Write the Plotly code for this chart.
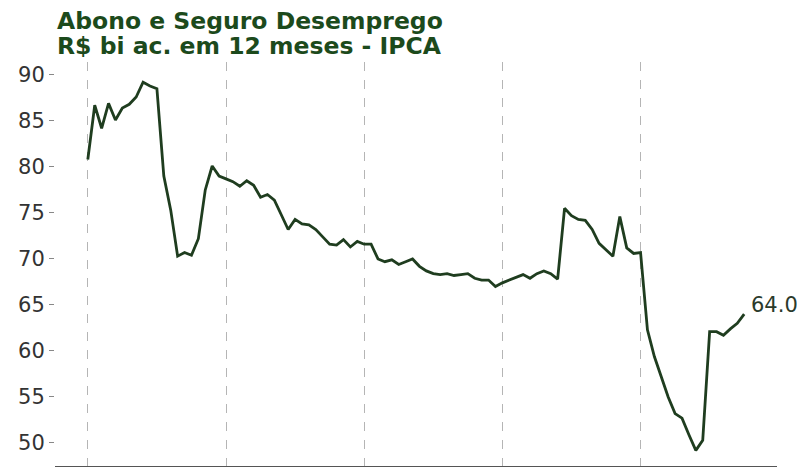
import plotly.graph_objects as go

values = [
    80.8, 86.7, 84.2, 86.9, 85.1, 86.4, 86.8, 87.6, 89.2, 88.8,
    88.5, 79.0, 75.3, 70.3, 70.7, 70.4, 72.2, 77.5, 80.1, 79.0,
    78.7, 78.4, 77.9, 78.5, 78.0, 76.7, 77.0, 76.4, 74.8, 73.2,
    74.3, 73.8, 73.7, 73.2, 72.4, 71.6, 71.5, 72.1, 71.3, 71.9,
    71.6, 71.6, 70.0, 69.7, 69.9, 69.4, 69.7, 70.0, 69.2, 68.7,
    68.4, 68.3, 68.4, 68.2, 68.3, 68.4, 67.9, 67.7, 67.7, 67.0,
    67.4, 67.7, 68.0, 68.3, 67.9, 68.4, 68.7, 68.4, 67.8, 75.5,
    74.7, 74.3, 74.2, 73.2, 71.7, 71.0, 70.3, 74.6, 71.2, 70.6,
    70.7, 62.3, 59.4, 57.2, 55.0, 53.2, 52.7, 50.9, 49.2, 50.3,
    62.1, 62.1, 61.7, 62.4, 63.0, 64.0,
]
x_index = list(range(len(values)))
grid_positions = [0, 20, 40, 60, 80]
y_ticks = [50, 55, 60, 65, 70, 75, 80, 85, 90]
title_lines = ["Abono e Seguro Desemprego", "R$ bi ac. em 12 meses - IPCA"]
last_label = f"{values[-1]:.1f}"

LINE = "#1f3d1f"
TITLE = "#1c4a1c"
TEXT = "#333333"

fig = go.Figure()
fig.add_trace(go.Scatter(
    x=x_index, y=values, mode="lines",
    line=dict(color=LINE, width=2.8),
    hoverinfo="skip", showlegend=False,
))

fig.add_annotation(
    x=x_index[-1], y=values[-1], text=last_label,
    xref="x", yref="y", showarrow=False,
    xanchor="left", yanchor="middle", xshift=5, yshift=9,
    font=dict(family="DejaVu Sans", size=21, color="#2b3a2b"),
)

for line_text, shift in zip(title_lines, [41, 16]):
    fig.add_annotation(
        x=0, y=1, xref="paper", yref="paper", text="<b>" + line_text + "</b>",
        showarrow=False, xanchor="left", yanchor="middle", yshift=shift, xshift=0,
        font=dict(family="DejaVu Sans", size=23.5, color=TITLE),
    )

fig.update_layout(
    width=805, height=470,
    margin=dict(l=47, r=36, t=54, b=12, autoexpand=False),
    paper_bgcolor="white", plot_bgcolor="white",
    font=dict(family="DejaVu Sans", size=21, color=TEXT),
)

fig.update_xaxes(
    range=[-4.75, 99.75], automargin=False,
    tickvals=grid_positions, showticklabels=False,
    showgrid=True, gridcolor="#b5b5b5", griddash="dash", gridwidth=1,
    showline=True, linecolor="#555555", linewidth=1.2,
    zeroline=False, ticks="",
)
fig.update_yaxes(
    range=[47.5, 91.4], automargin=False,
    tickvals=y_ticks, ticktext=[str(t) for t in y_ticks],
    showgrid=False, zeroline=False, showline=False,
    ticks="outside", ticklen=5, tickcolor="#888888", tickwidth=1,
    tickfont=dict(family="DejaVu Sans", size=21, color=TEXT),
)

fig.write_html("out.html")
